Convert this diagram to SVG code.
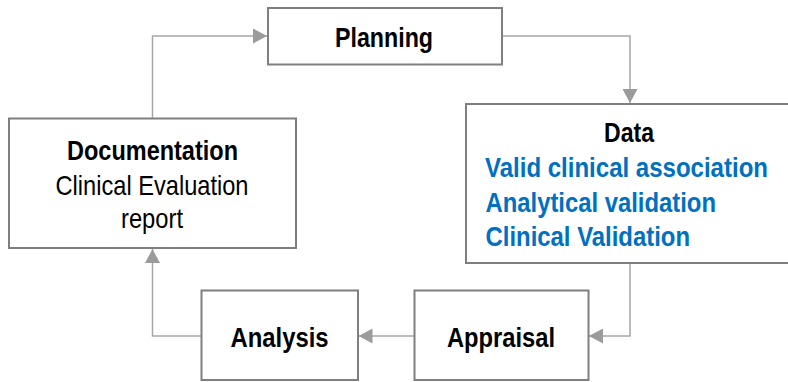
<svg xmlns="http://www.w3.org/2000/svg" width="788" height="382" viewBox="0 0 788 382">
  <style>
    .box { fill: #ffffff; stroke: #7f7f7f; stroke-width: 2; }
    .conn { fill: none; stroke: #a6a6a6; stroke-width: 1.5; }
    text { font-family: "Liberation Sans Narrow", "Liberation Sans", Arial, sans-serif; font-size: 28px; fill: #000000; }
    .b { font-weight: bold; }
    .c { text-anchor: middle; }
    .blue { fill: #0070c0; font-weight: bold; }
  </style>
  <defs>
    <marker id="arrow" viewBox="0 0 14 15" refX="14" refY="7.5" markerWidth="14" markerHeight="15" markerUnits="userSpaceOnUse" orient="auto">
      <path d="M0,0 L14,7.5 L0,15 Z" fill="#9b9b9b"/>
    </marker>
  </defs>
  <rect width="788" height="382" fill="#ffffff"/>

  <g id="connectors">
    <path class="conn" d="M152.5,118 V36 H267" marker-end="url(#arrow)"/>
    <path class="conn" d="M502,36 H630 V103" marker-end="url(#arrow)"/>
    <path class="conn" d="M630,263 V336 H589" marker-end="url(#arrow)"/>
    <path class="conn" d="M414,336 H358.5" marker-end="url(#arrow)"/>
    <path class="conn" d="M201,336 H152.5 V249" marker-end="url(#arrow)"/>
  </g>

  <g id="planning">
    <rect class="box" x="268" y="8" width="234" height="56.5"/>
    <text class="b c" x="384" y="47" textLength="98" lengthAdjust="spacingAndGlyphs">Planning</text>
  </g>

  <g id="data">
    <rect class="box" x="466" y="104" width="330" height="159"/>
    <text class="b c" x="629" y="142" textLength="50" lengthAdjust="spacingAndGlyphs">Data</text>
    <text class="blue" x="485" y="177" textLength="283" lengthAdjust="spacingAndGlyphs">Valid clinical association</text>
    <text class="blue" x="485.5" y="211.5" textLength="230.5" lengthAdjust="spacingAndGlyphs">Analytical validation</text>
    <text class="blue" x="485.5" y="245.5" textLength="204.5" lengthAdjust="spacingAndGlyphs">Clinical Validation</text>
  </g>

  <g id="documentation">
    <rect class="box" x="9" y="118.5" width="287" height="129.5"/>
    <text class="b c" x="152.5" y="160" textLength="171" lengthAdjust="spacingAndGlyphs">Documentation</text>
    <text class="c" x="152" y="195" textLength="193" lengthAdjust="spacingAndGlyphs">Clinical Evaluation</text>
    <text class="c" x="152" y="228" textLength="62" lengthAdjust="spacingAndGlyphs">report</text>
  </g>

  <g id="analysis">
    <rect class="box" x="201.5" y="290.5" width="156.5" height="89.5"/>
    <text class="b c" x="279.5" y="347" textLength="98" lengthAdjust="spacingAndGlyphs">Analysis</text>
  </g>

  <g id="appraisal">
    <rect class="box" x="414.5" y="290.5" width="174" height="89.5"/>
    <text class="b c" x="501" y="347" textLength="108" lengthAdjust="spacingAndGlyphs">Appraisal</text>
  </g>
</svg>
